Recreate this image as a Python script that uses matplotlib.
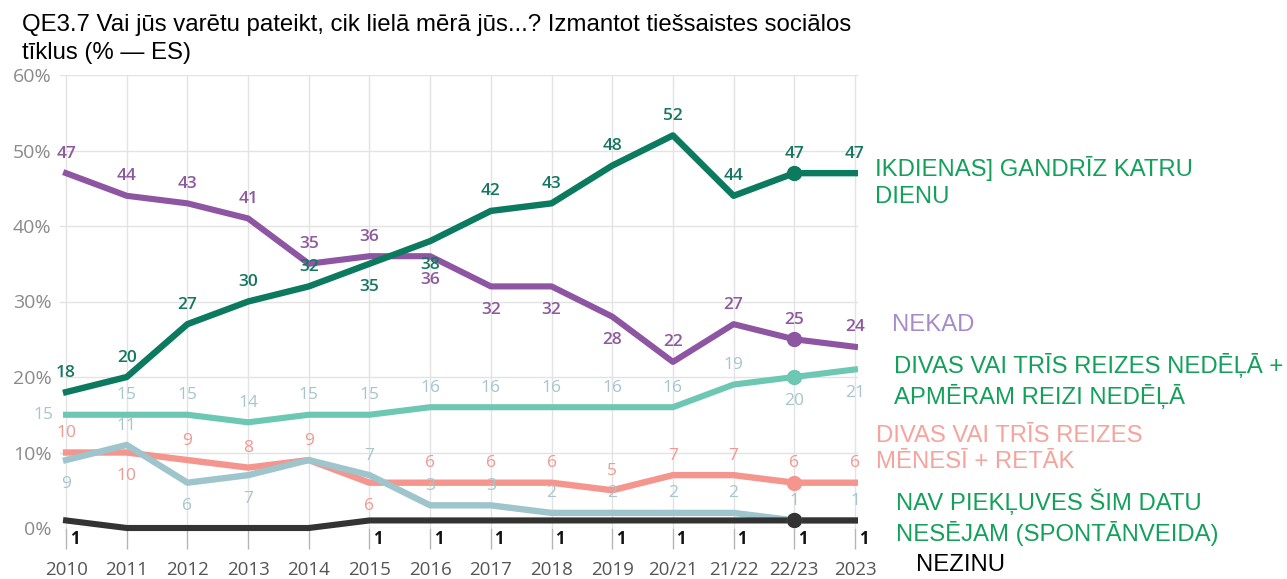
import matplotlib.pyplot as plt
import numpy as np

TITLE = ("QE3.7 Vai jūs varētu pateikt, cik lielā mērā jūs...? Izmantot tiešsaistes sociālos\n"
         "tīklus (% — ES)")

YEARS = ["2010", "2011", "2012", "2013", "2014", "2015", "2016", "2017",
         "2018", "2019", "20/21", "21/22", "22/23", "2023"]

IKDIENAS = [18, 20, 27, 30, 32, 35, 38, 42, 43, 48, 52, 44, 47, 47]
NEKAD = [47, 44, 43, 41, 35, 36, 36, 32, 32, 28, 22, 27, 25, 24]
NEDELA = [15, 15, 15, 14, 15, 15, 16, 16, 16, 16, 16, 19, 20, 21]
MENESI = [10, 10, 9, 8, 9, 6, 6, 6, 6, 5, 7, 7, 6, 6]
NAV_PIEKLUVES = [9, 11, 6, 7, 9, 7, 3, 3, 2, 2, 2, 2, 1, 1]
NEZINU = [1, 0, 0, 0, 0, 1, 1, 1, 1, 1, 1, 1, 1, 1]

# where each value label sits: a = above, b = below, l = left, - = none
IKDIENAS_POS = "aaaaabbaaaaaaa"
NEKAD_POS = "aaaaaabbbbaaaa"
NEDELA_POS = "laaaaaaaaaaabb"
MENESI_POS = "abaaabaaaaaaaa"
NAV_POS = "babb-aaaaaaaaa"

SERIES = [
    # values, positions, line colour, label colour, line width, label weight
    (NEDELA, NEDELA_POS, "#6cc7b3", "#a6c5cd", 4.4, "normal"),
    (MENESI, MENESI_POS, "#f4958e", "#f19891", 4.6, "normal"),
    (NAV_PIEKLUVES, NAV_POS, "#9ec5cc", "#a6c5cd", 4.6, "normal"),
    (NEKAD, NEKAD_POS, "#8d55a2", "#8d5a9e", 4.4, "semibold"),
    (IKDIENAS, IKDIENAS_POS, "#0b7a5e", "#15775f", 4.6, "semibold"),
]

RIGHT_LABELS = [
    ("IKDIENAS] GANDRĪZ KATRU\nDIENU", 875, 182, "#12a05a"),
    ("NEKAD", 892, 325, "#a78bc9"),
    ("DIVAS VAI TRĪS REIZES NEDĒĻĀ +\nAPMĒRAM REIZI NEDĒĻĀ", 894, 381, "#12a05a"),
    ("DIVAS VAI TRĪS REIZES\nMĒNESĪ + RETĀK", 876, 449, "#f6a39d"),
    ("NAV PIEKĻUVES ŠIM DATU\nNESĒJAM (SPONTĀNVEIDA)", 896, 517, "#12a05a"),
    ("NEZINU", 916, 565, "#000000"),
]

W, H = 1287, 579


def fx(px):
    return px / W


def fy(py):
    return 1 - py / H


def label_series(ax, values, positions, color, weight):
    offsets = {"a": (0, 14), "b": (0, -17), "l": (-16, 0)}
    for i, (v, p) in enumerate(zip(values, positions)):
        if p == "-":
            continue
        ax.annotate(str(v), (i, v), xytext=offsets[p], textcoords="offset points",
                    ha="center", va="center", color=color, fontsize=12.5,
                    fontweight=weight, family="Open Sans")


def main():
    fig = plt.figure(figsize=(W / 100, H / 100), dpi=100)
    ax = fig.add_axes([fx(60), fy(528), fx(858) - fx(60), (528 - 75) / H])

    x = np.arange(len(YEARS))
    ax.set_xlim(-0.1, 13.05)
    ax.set_ylim(0, 60)

    for values, positions, line_color, text_color, lw, weight in SERIES:
        ax.plot(x, values, color=line_color, lw=lw, zorder=3)
        ax.plot(x[12], values[12], "o", color=line_color, ms=10, zorder=4)
        label_series(ax, values, positions, text_color, weight)

    ax.plot(x, NEZINU, color="#333333", lw=4.4, zorder=3, clip_on=False)
    ax.plot(x[12], NEZINU[12], "o", color="#333333", ms=10, zorder=4, clip_on=False)
    for i, v in enumerate(NEZINU):
        if v:
            ax.annotate(str(v), (i, 0), xytext=(6, -8), textcoords="offset points",
                        ha="center", va="center", fontsize=12, fontweight="bold",
                        color="#111111", family="Open Sans")

    ax.set_yticks(np.arange(0, 61, 10))
    ax.set_yticklabels([f"{t}%" for t in range(0, 61, 10)])
    ax.set_xticks(x)
    ax.set_xticklabels(YEARS)
    ax.tick_params(axis="y", length=0, pad=6, labelsize=14, labelcolor="#8a8a8a")
    ax.tick_params(axis="x", length=15, width=1, color="#b5b5b5", pad=9,
                   labelsize=13.5, labelcolor="#555555")
    for lab in ax.get_xticklabels() + ax.get_yticklabels():
        lab.set_family("Open Sans")

    ax.grid(color="#e3e3e3", lw=1)
    ax.set_axisbelow(True)
    for spine in ax.spines.values():
        spine.set_visible(False)

    fig.text(fx(22), fy(39), TITLE, fontsize=17.3, family="Liberation Sans",
             va="center", ha="left", linespacing=1.3)

    for text, px, py, color in RIGHT_LABELS:
        fig.text(fx(px), fy(py), text, fontsize=17.2, family="Liberation Sans",
                 color=color, va="center", ha="left", linespacing=1.28)

    fig.savefig("out.png", dpi=100)


if __name__ == "__main__":
    main()
